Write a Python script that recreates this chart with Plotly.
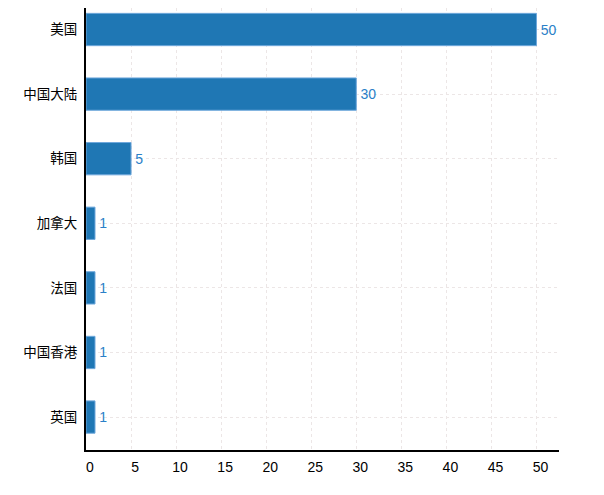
import plotly.graph_objects as go

categories = ["美国", "中国大陆", "韩国", "加拿大", "法国", "中国香港", "英国"]
values = [50, 30, 5, 1, 1, 1, 1]
x_ticks = [0, 5, 10, 15, 20, 25, 30, 35, 40, 45, 50]

fig = go.Figure(go.Bar(
    y=categories, x=values, orientation="h",
    marker=dict(color="#1f77b4", line=dict(color="#6fa8dc", width=1)),
    width=0.5,
    texttemplate="\u200a%{x}", textposition="outside",
    textfont=dict(color="#2a80c8", size=14),
    cliponaxis=False,
))

fig.update_layout(
    width=604, height=495,
    margin=dict(l=78, r=53, t=0, b=53),
    plot_bgcolor="white", paper_bgcolor="white",
    font=dict(family="Liberation Sans, Noto Sans CJK SC, sans-serif", size=13.5, color="#222"),
    showlegend=False,
    bargap=0.5,
)
fig.update_xaxes(
    range=[0, 52.5], tickvals=x_ticks, showgrid=True, gridcolor="#ece6e6", griddash="dot",
    gridwidth=1, showline=True, linecolor="black", linewidth=2, zeroline=False,
    ticks="", ticklabelstandoff=3, ticklabelshift=4, tickfont=dict(color="black", size=14),
    automargin=False,
)
fig.update_yaxes(
    categoryorder="array", categoryarray=categories, range=[6.51, -0.333],
    showgrid=True, gridcolor="#ece6e6", griddash="dot", gridwidth=1,
    showline=True, linecolor="black", linewidth=2, zeroline=False,
    ticks="", ticklabelstandoff=4, tickfont=dict(color="black", size=13.5),
    automargin=False,
)

fig.write_html("out.html")
